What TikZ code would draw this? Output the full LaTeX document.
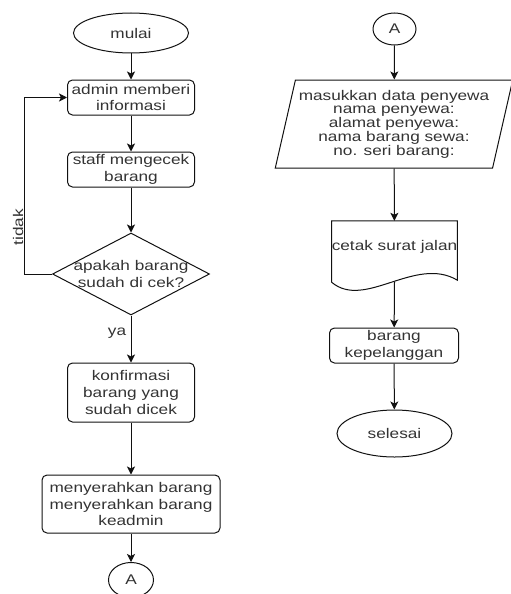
\documentclass[tikz,border=0pt]{standalone}
\usepackage{fontspec}
\setmainfont{Liberation Sans}[FakeStretch=1.23]
\usepackage{tikz}
\usetikzlibrary{positioning, arrows.meta, calc, shapes.geometric}
\definecolor{garis}{HTML}{111111}
\definecolor{teks}{HTML}{333333}

\begin{document}
\begin{tikzpicture}[x=1pt, y=-1pt,
      every node/.style={font=\fontsize{14}{16.7}\selectfont, color=teks},
      proses/.style={draw=garis, rounded corners=5pt, line width=1pt,
        align=center, inner sep=0pt},
      terminal/.style={ellipse, draw=garis, line width=1pt, inner sep=0pt},
      keputusan/.style={diamond, draw=garis, line width=1pt, inner sep=0pt},
      masukan/.style={trapezium, trapezium left angle=74,
        trapezium right angle=106, trapezium stretches=true,
        draw=garis, line width=1pt, align=center, inner sep=0pt,
        font=\fontsize{14}{13.7}\selectfont},
      alur/.style={-{Stealth[length=8pt, width=8pt, inset=2pt]},
        line width=1pt, color=garis}]

    \useasboundingbox (0,0) rectangle (511,594);

    \node[terminal, minimum width=115pt, minimum height=40pt] (mulai) at (131,33) {mulai};
    \node[proses, minimum width=127pt, minimum height=35pt] (admin) at (131,97.5) {admin memberi\\informasi};
    \node[proses, minimum width=127pt, minimum height=35pt] (staff) at (131,169.5) {staff mengecek\\barang};
    \node[keputusan, minimum width=157pt, minimum height=82pt] (cek) at (131,274) {};
    \node[align=center] (cekteks) at (cek) {apakah barang\\sudah di cek?};
    \node[proses, minimum width=127pt, minimum height=59pt] (konfirmasi) at (131,392.5) {konfirmasi\\barang yang\\sudah dicek};
    \node[proses, minimum width=178pt, minimum height=58pt] (serah) at (131,504) {menyerahkan barang\\menyerahkan barang\\keadmin};
    \node[terminal, minimum width=45pt, minimum height=35pt] (konA) at (131,580) {A};

    \node[terminal, minimum width=43pt, minimum height=32pt] (konB) at (394.5,29) {A};
    \node[masukan, minimum width=238pt, minimum height=88pt] (input) at (394,124) {masukkan data penyewa\\nama penyewa:\\alamat penyewa:\\nama barang sewa:\\no. seri barang:};
    \node[minimum width=125pt, minimum height=52pt, inner sep=0pt] (cetak) at (394.5,247) {cetak surat jalan};
    \node[proses, minimum width=129pt, minimum height=35pt] (kirim) at (394,345.5) {barang\\kepelanggan};
    \node[terminal, minimum width=115pt, minimum height=47pt] (selesai) at (394.5,433.5) {selesai};

    \draw[line width=1pt, color=garis] (cetak.south west) -- (cetak.north west)
      -- (cetak.north east) -- ($(cetak.south east)+(0,7)$)
      .. controls +(-42,-25) and ($(cetak.south west)+(33,37)$) .. ($(cetak.south west)+(0,9)$)
      -- cycle;
    \coordinate (cetakbawah) at ($(cetak.south)+(0,9)$);

    \foreach \a/\b in {mulai/admin, admin/staff, staff/cek, cek/konfirmasi,
        konfirmasi/serah, serah/konA, konB/input, input/cetak,
        cetakbawah/kirim, kirim/selesai}
      \draw[alur] (\a) -- (\b);

    \draw[alur] (cek.west) -- ++(-28,0) |- (admin.west);
    \node[rotate=90] (tidak) at (18,227) {tidak};
    \node (ya) at (117,333) {ya};
  \end{tikzpicture}
\end{document}
